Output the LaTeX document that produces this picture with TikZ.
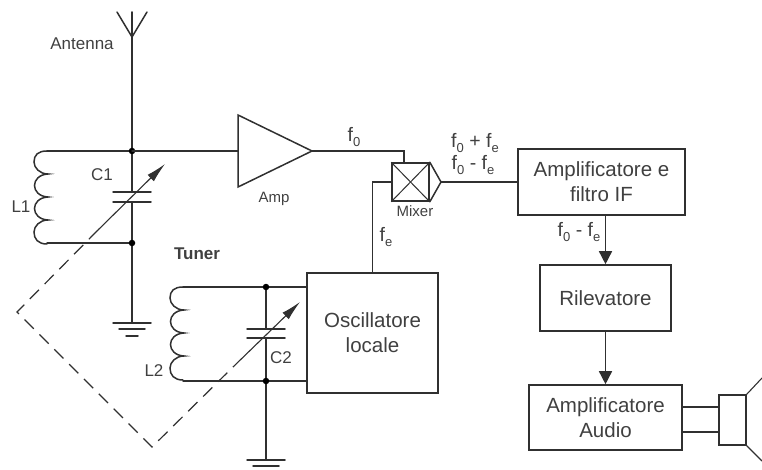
\documentclass[tikz,border=0pt]{standalone}
\usepackage{fontspec}
\setmainfont{Liberation Sans}
\usetikzlibrary{arrows.meta,positioning}
\definecolor{ink}{HTML}{303030}
\definecolor{txt}{HTML}{404040}
\newcommand{\lowsub}[1]{\raisebox{-0.3em}{\fontsize{13}{13}\selectfont #1}}
\tikzset{
  wire/.style={draw=ink,line width=1.5pt,line cap=round,line join=miter},
  thin wire/.style={draw=ink,line width=1pt},
  blockbox/.style={draw=ink,line width=1.6pt,fill=white,inner sep=0pt,align=center,font=\fontsize{20.5}{25}\selectfont,text=txt},
  lab/.style={inner sep=0pt,text=txt,font=\fontsize{17}{21}\selectfont},
  flab/.style={inner sep=0pt,text=txt,font=\fontsize{19.5}{22}\selectfont},
  smalllab/.style={inner sep=0pt,text=txt,font=\fontsize{15}{18}\selectfont},
  junction/.style={circle,fill=black,inner sep=0pt,minimum size=6.5pt},
  flow/.style={wire,-{Triangle[length=13pt,width=13pt]}},
  tune/.style={draw=ink,line width=1.1pt,-{Latex[length=20pt,width=9pt]}},
  gang/.style={draw=ink,line width=1.2pt,dash pattern=on 13pt off 8pt},
  inductor/.pic={
    \draw[wire] (0,0) .. controls (-9,0) and (-13,4) .. (-13,11)
      .. controls (-13,17) and (-7,23) .. (1,23)
      .. controls (-17,24) and (-17,45) .. (1,46)
      .. controls (-17,47) and (-17,68) .. (1,69)
      .. controls (-7,69) and (-13,75) .. (-13,81)
      .. controls (-13,88) and (-9,93) .. (0,93);
  },
  earth/.pic={
    \draw[wire] (-19,0) -- (19,0);
    \draw[wire] (-13,6) -- (13,6);
    \draw[wire] (-6,13) -- (6,13);
  }
}
\begin{document}
\begin{tikzpicture}[x=1pt,y=-1pt]
\useasboundingbox (0,0) rectangle (762,470);
% blocks
\node[blockbox,minimum width=167pt,minimum height=66pt] (if) at (601.5,182) {Amplificatore e\\filtro IF};
\node[blockbox,minimum width=131pt,minimum height=66pt] (riv) at (605.5,298) {Rilevatore};
\node[blockbox,minimum width=153pt,minimum height=65pt] (audio) at (605.5,417.5) {Amplificatore\\Audio};
\node[blockbox,minimum width=131pt,minimum height=120pt] (osc) at (372.5,333) {Oscillatore\\locale};
\node[draw=ink,line width=1.6pt,fill=white,minimum width=37pt,minimum height=38pt,inner sep=0pt] (mix) at (410.5,182) {};
\node[draw=ink,line width=1.3pt,minimum width=27pt,minimum height=50pt,inner sep=0pt] (spk) at (732.5,420) {};
% antenna
\coordinate (anttop) at (132,12);
\coordinate (antbase) at (132,37);
\coordinate (antl) at (117,12);
\coordinate (antr) at (147,12);
\coordinate (j1) at (132,151);
\coordinate (j2) at (132,243);
\coordinate (c1a) at (132,192);
\coordinate (c1b) at (132,202);
\coordinate (g1) at (132,323);
\coordinate (l1t) at (47,151);
\coordinate (l1b) at (47,243);
\draw[wire] (antl) -- (antbase) -- (antr);
\draw[wire] (anttop) -- (c1a);
\draw[wire] (c1b) -- (g1);
\draw[wire] (l1t) -- (j1);
\draw[wire] (l1b) -- (j2);
\pic at (l1t) {inductor};
\draw[wire] ([xshift=-19pt]c1a) -- ([xshift=19pt]c1a);
\draw[wire] ([xshift=-19pt]c1b) -- ([xshift=19pt]c1b);
\pic at (g1) {earth};
\node[junction] at (j1) {};
\node[junction] at (j2) {};
% amplifier
\coordinate (ampin) at (238,151);
\coordinate (ampt) at (238,115);
\coordinate (ampb) at (238,187);
\coordinate (ampo) at (312,151);
\draw[wire] (ampt) -- (ampo) -- (ampb) -- cycle;
\draw[wire] (j1) -- (ampin);
% mixer
\coordinate (mixo) at (441,182);
\draw[wire] (mix.north east) -- (mixo) -- (mix.south east);
\draw[thin wire] (mix.north west) -- (mix.south east);
\draw[thin wire] (mix.south west) -- (mix.north east);
\draw[wire] (ampo) -| (mix.north -| 404,163);
\draw[wire] (osc.north) |- (mix.west);
\draw[wire] (mixo) -- (if.west |- mixo);
\draw[flow] (if.south -| riv.north) -- (riv.north);
\draw[flow] (riv.south) -- (audio.north);
% speaker
\draw[wire] (audio.east |- 0,407) -- (spk.west |- 0,407);
\draw[wire] (audio.east |- 0,432) -- (spk.west |- 0,432);
\coordinate (conea) at (762,378);
\coordinate (coneb) at (762,461);
\draw[wire,line width=1.1pt] (spk.north east) -- (conea);
\draw[wire,line width=1.1pt] (spk.south east) -- (coneb);
% tuner 2
\coordinate (l2t) at (183,287);
\coordinate (l2b) at (183,381);
\coordinate (j3) at (266,287);
\coordinate (j4) at (266,381);
\coordinate (c2a) at (266,329);
\coordinate (c2b) at (266,338);
\coordinate (g2) at (266,460);
\draw[wire] (l2t) -- (osc.west |- l2t);
\draw[wire] (l2b) -- (osc.west |- l2b);
\pic at (l2t) {inductor};
\draw[wire] (j3) -- (c2a);
\draw[wire] (c2b) -- (g2);
\draw[wire] ([xshift=-19pt]c2a) -- ([xshift=19pt]c2a);
\draw[wire] ([xshift=-19pt]c2b) -- ([xshift=19pt]c2b);
\pic at (g2) {earth};
\node[junction] at (j3) {};
\node[junction] at (j4) {};
% variable capacitor arrows and ganged tuning
\coordinate (t1) at (165,164);
\coordinate (s1) at (98,230);
\coordinate (corner1) at (17,312);
\coordinate (corner2) at (152,447);
\coordinate (s2) at (233,367);
\coordinate (t2) at (300,302);
\draw[tune] (s1) -- (t1);
\draw[tune] (s2) -- (t2);
\draw[gang] (s1) -- (corner1) -- (corner2) -- (s2);
% labels
\node[lab] (lantenna) at (82,44) {Antenna};
\node[lab] (lc1) at (102,175) {C1};
\node[lab] (ll1) at (21,207) {L1};
\node[smalllab] (lamp) at (274,199) {Amp};
\node[smalllab] (lmix) at (415,211) {Mixer};
\node[lab,font=\fontsize{17}{21}\selectfont\bfseries] (ltuner) at (197,254) {Tuner};
\node[lab] (ll2) at (154,371) {L2};
\node[lab] (lc2) at (281,358) {C2};
\node[flab] (lf0) at (354,137) {f\lowsub{0}};
\node[flab] (lfe) at (386,237) {f\lowsub{e}};
\node[flab] (lsum) at (475,143) {f\lowsub{0} + f\lowsub{e}};
\node[flab] (ldiff) at (473,165) {f\lowsub{0} - f\lowsub{e}};
\node[flab] (ldiff2) at (579,232) {f\lowsub{0} - f\lowsub{e}};
\end{tikzpicture}
\end{document}
